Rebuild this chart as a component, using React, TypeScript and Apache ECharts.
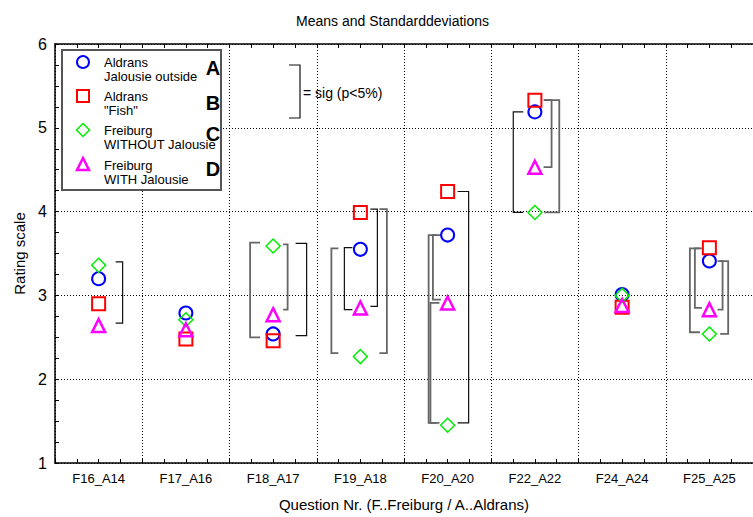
import React, { useEffect, useRef } from "react";
import * as echarts from "echarts";

const categories = ["F16_A14", "F17_A16", "F18_A17", "F19_A18", "F20_A20", "F22_A22", "F24_A24", "F25_A25"];
const aldransOutside = [3.2, 2.79, 2.54, 3.55, 3.72, 5.19, 3.01, 3.41];
const aldransFish = [2.9, 2.48, 2.46, 3.99, 4.24, 5.33, 2.86, 3.57];
const freiburgWithout = [3.36, 2.71, 3.59, 2.27, 1.45, 3.99, 3.0, 2.54];
const freiburgWith = [2.64, 2.59, 2.77, 2.85, 2.91, 4.53, 2.88, 2.83];
const yTicks = [1, 2, 3, 4, 5, 6];

// significance brackets: [category index, upper value, lower value]
const sigPairs = [
  [0, 3.4, 2.67],
  [2, 3.63, 2.5],
  [2, 3.61, 2.83],
  [2, 3.62, 2.52],
  [3, 3.56, 2.31],
  [3, 3.57, 2.83],
  [3, 4.03, 2.87],
  [3, 4.03, 2.31],
  [4, 3.72, 2.95],
  [4, 2.91, 1.48],
  [4, 3.72, 1.48],
  [4, 4.24, 1.48],
  [5, 5.19, 3.99],
  [5, 5.33, 4.53],
  [5, 5.33, 3.99],
  [7, 3.56, 2.56],
  [7, 3.56, 2.85],
  [7, 3.41, 2.83],
  [7, 3.41, 2.54],
];
// drawing layout of each bracket: [x offset px, tick length px, grey]
const sigLayout = [
  [24, 7, 0],
  [-23, 10, 1],
  [14.5, 4.5, 1],
  [33.5, 11, 0],
  [-29, 7, 1],
  [-16, 8, 0],
  [17, 7, 0],
  [26.5, 7.5, 1],
  [-14.7, 8, 1],
  [-17.2, 9, 1],
  [-19, 8, 1],
  [21, 11, 0],
  [-21.6, 10, 0],
  [16.7, 8, 1],
  [24.4, 15, 1],
  [-19.5, 10, 1],
  [-14.5, 7, 1],
  [13.2, 5, 1],
  [18.8, 8, 1],
];

const FONT = "'Liberation Sans', Arial, sans-serif";
const BLUE = "#0000ff";
const RED = "#ff0000";
const GREEN = "#00ee00";
const MAGENTA = "#ff00ff";

const hollow = "rgba(255,255,255,0)";

export default function App() {
  const ref = useRef<HTMLDivElement>(null);
  useEffect(() => {
    if (!ref.current) return;
    const chart = echarts.init(ref.current, undefined, { renderer: "svg" });

    const bracketData = sigPairs.map((p, i) => [p[0], p[1], p[2], sigLayout[i][0], sigLayout[i][1], sigLayout[i][2]]);

    const legendItems = [
      { l1: "Aldrans", l2: "Jalousie outside", letter: "A", y: 62, ly: 68 },
      { l1: "Aldrans", l2: '"Fish"', letter: "B", y: 96, ly: 103 },
      { l1: "Freiburg", l2: "WITHOUT Jalousie", letter: "C", y: 130, ly: 134 },
      { l1: "Freiburg", l2: "WITH Jalousie", letter: "D", y: 165, ly: 169 },
    ];
    const mx = 83;
    const graphics: any[] = [
      {
        type: "rect",
        shape: { x: 62, y: 50, width: 159, height: 140 },
        style: { fill: "#fff", stroke: "#555", lineWidth: 2 },
        z: 100,
      },
      {
        type: "circle",
        shape: { cx: mx, cy: 62, r: 6 },
        style: { fill: hollow, stroke: BLUE, lineWidth: 2 },
        z: 101,
      },
      {
        type: "rect",
        shape: { x: mx - 6, y: 90, width: 12, height: 12 },
        style: { fill: hollow, stroke: RED, lineWidth: 2 },
        z: 101,
      },
      {
        type: "polygon",
        shape: { points: [[mx, 123.5], [mx + 6.5, 130], [mx, 136.5], [mx - 6.5, 130]] },
        style: { fill: hollow, stroke: GREEN, lineWidth: 1.5 },
        z: 101,
      },
      {
        type: "polygon",
        shape: { points: [[mx, 158], [mx + 6, 170], [mx - 6, 170]] },
        style: { fill: hollow, stroke: MAGENTA, lineWidth: 2.5 },
        z: 101,
      },
      // key bracket
      {
        type: "polyline",
        shape: { points: [[289, 65], [300, 65], [300, 118], [289, 118]] },
        style: { stroke: "#111", lineWidth: 1.2, fill: "none" },
        z: 101,
      },
      {
        type: "text",
        x: 303,
        y: 93,
        style: { text: "= sig (p<5%)", fontSize: 14, fontFamily: FONT, fill: "#000", verticalAlign: "middle", align: "left" },
        z: 101,
      },
    ];
    legendItems.forEach((it) => {
      graphics.push({
        type: "text",
        x: 104,
        y: it.y,
        style: { text: it.l1, fontSize: 13, fontFamily: FONT, fill: "#000", verticalAlign: "middle", align: "left" },
        z: 101,
      });
      graphics.push({
        type: "text",
        x: 104,
        y: it.y + 14,
        style: { text: it.l2, fontSize: 13, fontFamily: FONT, fill: "#000", verticalAlign: "middle", align: "left" },
        z: 101,
      });
      graphics.push({
        type: "text",
        x: 213,
        y: it.ly,
        style: {
          text: it.letter,
          fontSize: 20,
          fontWeight: "bold",
          fontFamily: FONT,
          fill: "#000",
          verticalAlign: "middle",
          align: "center",
        },
        z: 102,
      });
    });

    const scatterSeries = (name: string, data: number[], symbol: string, color: string, bw: number, size: number) => ({
      name,
      type: "scatter",
      xAxisIndex: 0,
      yAxisIndex: 0,
      data: data.map((v, i) => [i, v]),
      symbol,
      symbolSize: size,
      itemStyle: { color: hollow, borderColor: color, borderWidth: bw, opacity: 1 },
      z: 5,
    });

    const tickAxisCommon = {
      type: "value",
      min: 0,
      max: 8,
      interval: 0.25,
      axisLabel: { show: false },
      splitLine: { show: false },
      axisTick: { show: true, inside: true, length: 4, lineStyle: { color: "#000", width: 1 } },
    };

    chart.setOption({
      animation: false,
      title: {
        text: "Means and Standarddeviations",
        left: 291,
        top: 9,
        textStyle: { fontSize: 14, fontWeight: "normal", fontFamily: FONT, color: "#000" },
      },
      grid: { left: 55, top: 44, width: 709, height: 420, containLabel: false },
      xAxis: [
        {
          type: "category",
          data: categories,
          boundaryGap: true,
          position: "bottom",
          name: "Question Nr. (F..Freiburg / A..Aldrans)",
          nameLocation: "middle",
          nameGap: 34,
          nameTextStyle: { fontSize: 15, fontFamily: FONT, color: "#000" },
          axisLine: { show: true, lineStyle: { color: "#000", width: 1.5 } },
          axisTick: { show: false },
          axisLabel: { fontSize: 13, fontFamily: FONT, color: "#000", margin: 9 },
          splitLine: { show: true, lineStyle: { color: "#000", type: [1, 2], width: 1 } },
        },
        { ...tickAxisCommon, position: "bottom", axisLine: { show: false } },
        { ...tickAxisCommon, position: "top", axisLine: { show: true, lineStyle: { color: "#000", width: 1.5 } } },
      ],
      yAxis: [
        {
          type: "value",
          min: 1,
          max: 6,
          interval: 1,
          name: "Rating scale",
          nameLocation: "middle",
          nameGap: 28,
          nameTextStyle: { fontSize: 15, fontFamily: FONT, color: "#000" },
          axisLine: { show: true, lineStyle: { color: "#000", width: 1.5 } },
          axisTick: { show: true, inside: true, length: 4, lineStyle: { color: "#000" } },
          minorTick: { show: true, splitNumber: 4, length: 4, lineStyle: { color: "#000" } },
          axisLabel: {
            fontSize: 16,
            fontFamily: FONT,
            color: "#000",
            margin: 8,
            formatter: (v: number) => (yTicks.includes(v) ? String(v) : ""),
          },
          splitLine: { show: true, lineStyle: { color: "#000", type: [1, 2], width: 1 } },
        },
      ],
      graphic: graphics,
      series: [
        {
          type: "custom",
          xAxisIndex: 0,
          yAxisIndex: 0,
          data: bracketData,
          encode: { x: 0, y: [1, 2] },
          z: 3,
          renderItem: (params: any, api: any) => {
            const c = api.value(0);
            const top = api.coord([c, api.value(1)]);
            const bot = api.coord([c, api.value(2)]);
            const off = api.value(3);
            const tick = api.value(4);
            const grey = api.value(5);
            const dir = off > 0 ? -1 : 1;
            const x = top[0] + off;
            return {
              type: "polyline",
              shape: {
                points: [
                  [x + dir * tick, top[1]],
                  [x, top[1]],
                  [x, bot[1]],
                  [x + dir * tick, bot[1]],
                ],
              },
              style: {
                fill: "none",
                stroke: grey ? "#666" : "#111",
                lineWidth: grey ? 1.8 : 1.2,
              },
            };
          },
        },
        scatterSeries("Aldrans Jalousie outside", aldransOutside, "circle", BLUE, 2, 13),
        scatterSeries('Aldrans "Fish"', aldransFish, "rect", RED, 2, 13),
        scatterSeries("Freiburg WITHOUT Jalousie", freiburgWithout, "diamond", GREEN, 1.5, 14),
        scatterSeries("Freiburg WITH Jalousie", freiburgWith, "triangle", MAGENTA, 2.5, 13),
      ],
    });
    return () => chart.dispose();
  }, []);
  return <div ref={ref} style={{ position: "absolute", left: 0, top: 0, width: 753, height: 517 }} />;
}
